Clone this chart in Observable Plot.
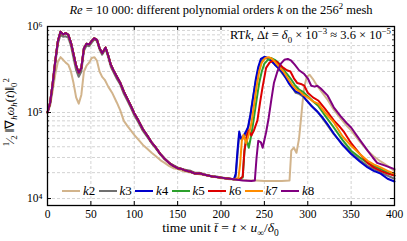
<!DOCTYPE html>
<html><head><meta charset="utf-8">
<script src="https://cdn.jsdelivr.net/npm/d3@7"></script>
<script src="https://cdn.jsdelivr.net/npm/@observablehq/plot@0.6"></script>
<style>
body{margin:0;background:#fff;}
#wrap{position:relative;width:407px;height:241px;font-family:"Liberation Serif",serif;color:#000;overflow:hidden;}
#chart{position:absolute;left:0;top:0;}
.txt{position:absolute;white-space:nowrap;line-height:1;}
#title{top:4px;left:0;width:442px;text-align:center;font-size:12.5px;}
#note{top:29px;right:15px;font-size:12.5px;background:#fff;padding:0 1px;}
#ylab{left:-70px;top:106px;width:160px;text-align:center;font-size:12.5px;transform:rotate(-90deg);}
#xlab{top:221px;left:0;width:441px;text-align:center;font-size:13.5px;}
#legend{position:absolute;left:62px;top:183px;display:flex;align-items:center;font-size:13px;}
.item{display:flex;align-items:center;width:36.5px;}
.item svg{margin-right:3px;}
sub,sup{font-size:70%;line-height:0;}
</style></head>
<body><div id="wrap">
<div id="chart"></div>
<div class="txt" id="title"><i>Re</i> = 10 000: different polynomial orders <i>k</i> on the 256<sup>2</sup> mesh</div>
<div class="txt" id="note">RT<i>k</i>, Δ<i>t</i> = <i>δ</i><sub>0</sub> × 10<sup>−3</sup> ≈ 3.6 × 10<sup>−5</sup></div>
<div class="txt" id="ylab"><sup>1</sup>⁄<sub>2</sub> ‖∇<sub><i>h</i></sub><i>ω</i><sub><i>h</i></sub>(<i>t</i>)‖<sub>0</sub><sup>2</sup></div>
<div class="txt" id="xlab">time unit <i>t̄</i> = <i>t</i> × <i>u</i><sub>∞</sub>/<i>δ</i><sub>0</sub></div>
<div id="legend"></div>
</div>
<script>
// ---- data ----
const seriesKeys = ["k2","k3","k4","k5","k6","k7","k8"];
const seriesColors = ["#d2b48c","#707070","#0000cc","#2ca02c","#dd0000","#ff8c00","#800080"];

// shared early part (k4..k8)
const tEarly = [0,3,6,9,12,15,18,21,24,27,30,33,36,39,42,45,48,51,54,57,60,63,67,70,73,76,80,84,88,92,96,100,105,110,115,120,125,130,135,140,145,150,155,160,165,170,175,180,185,190,195,200,205,210,215];
const vEarly = [1.0e5,1.3e5,2.2e5,4.0e5,6.8e5,8.7e5,8.1e5,8.4e5,8.0e5,6.5e5,4.8e5,3.5e5,2.9e5,3.3e5,5.6e5,6.3e5,6.2e5,6.8e5,7.3e5,7.0e5,5.6e5,4.9e5,5.7e5,4.6e5,3.6e5,3.1e5,2.6e5,2.2e5,1.75e5,1.45e5,1.2e5,9.8e4,8.0e4,6.4e4,5.4e4,4.5e4,3.9e4,3.3e4,2.9e4,2.6e4,2.4e4,2.25e4,2.2e4,2.1e4,2.05e4,1.95e4,1.97e4,1.9e4,1.85e4,1.8e4,1.78e4,1.75e4,1.72e4,1.7e4,1.68e4];
const vK3Early = [1.0e5,1.25e5,2.0e5,3.7e5,6.3e5,8.0e5,7.6e5,7.7e5,7.4e5,6.0e5,4.3e5,3.1e5,2.6e5,3.0e5,5.2e5,6.0e5,5.9e5,6.5e5,7.1e5,6.8e5,5.4e5,4.7e5,5.5e5,4.4e5,3.4e5,2.95e5,2.45e5,2.1e5,1.65e5,1.38e5,1.14e5,9.3e4,7.6e4,6.1e4,5.2e4,4.4e4,3.8e4,3.25e4,2.9e4,2.6e4,2.45e4,2.3e4,2.2e4,2.15e4,2.1e4,2.0e4,2.0e4,1.92e4,1.87e4,1.82e4,1.8e4,1.76e4,1.73e4,1.7e4,1.68e4];

const tK2 = [0,3,6,9,12,15,18,21,24,27,30,33,36,39,42,45,48,51,54,57,60,63,66,70,75,80,84,88,92,96,100,105,110,115,120,125,130,135,140,145,150,155,160,165,170,180,190,200,210,220,230,240,250,260,270,279,281,284,287,290,292,294,296,299,302,306,310,315,323,330,338,345,350,360,369,376,384,392,400];
const vK2 = [1.0e5,1.2e5,1.8e5,2.8e5,3.9e5,4.4e5,4.1e5,3.8e5,3.6e5,3.0e5,2.2e5,1.5e5,1.27e5,1.6e5,3.0e5,3.5e5,3.8e5,4.3e5,4.4e5,4.0e5,3.0e5,2.6e5,2.4e5,2.0e5,1.66e5,1.3e5,1.05e5,8.0e4,7.0e4,6.2e4,5.5e4,4.8e4,4.2e4,3.8e4,3.4e4,3.1e4,2.8e4,2.6e4,2.4e4,2.25e4,2.2e4,2.1e4,2.05e4,2.0e4,1.95e4,1.88e4,1.8e4,1.72e4,1.68e4,1.65e4,1.63e4,1.62e4,1.6e4,1.6e4,1.6e4,1.62e4,3.6e4,3.9e4,3.4e4,5.0e4,8.0e4,1.3e5,2.0e5,2.6e5,2.75e5,2.45e5,2.1e5,1.8e5,1.4e5,1.08e5,8.5e4,7.0e4,6.2e4,4.6e4,3.6e4,3.1e4,2.7e4,2.4e4,2.1e4];

const tK3Tail = [217,219,221,224,228,232,236,240,244,248,252,256,260,265,270,275,280,286,290,294,300,306,312,320,330,340,350,360,369,384,400];
const vK3Tail = [1.8e4,3.2e4,5.5e4,4.8e4,5.5e4,7.0e4,1.3e5,2.3e5,3.5e5,4.2e5,4.3e5,4.1e5,3.8e5,3.4e5,2.9e5,2.5e5,2.1e5,1.7e5,1.65e5,1.55e5,1.35e5,1.15e5,1.0e5,7.8e4,5.6e4,4.3e4,3.4e4,2.8e4,2.4e4,2.0e4,1.7e4];

const tK4Tail = [217,219,221,223,225,228,231,234,237,240,243,246,250,254,258,262,266,270,274,278,282,286,290,294,298,304,310,316,322,330,340,350,360,369,376,384,392,400];
const vK4Tail = [1.95e4,3.6e4,6.0e4,5.0e4,5.2e4,5.8e4,6.7e4,9.5e4,1.5e5,2.4e5,3.4e5,4.2e5,4.45e5,4.3e5,4.0e5,3.6e5,3.3e5,3.0e5,2.6e5,2.2e5,1.95e5,1.75e5,1.7e5,1.6e5,1.4e5,1.2e5,1.05e5,9.0e4,7.5e4,5.7e4,4.2e4,3.3e4,2.7e4,2.3e4,2.1e4,1.95e4,1.7e4,1.58e4];

const tK5Tail = [220,225,227,229,232,235,238,241,244,247,250,254,258,262,266,270,275,280,285,290,294,300,306,312,320,330,340,350,360,369,384,392,400];
const vK5Tail = [1.68e4,1.75e4,3.5e4,5.1e4,3.9e4,5.5e4,8.7e4,1.4e5,2.2e5,3.0e5,3.7e5,4.1e5,4.3e5,4.1e5,3.8e5,3.4e5,2.9e5,2.5e5,2.1e5,1.85e5,1.75e5,1.55e5,1.35e5,1.2e5,9.2e4,6.7e4,4.8e4,3.6e4,3.0e4,2.6e4,2.2e4,2.0e4,1.85e4];

const tK6Tail = [222,225,227,230,232,235,238,242,245,248,252,256,260,264,268,272,276,280,284,288,292,296,300,306,312,320,330,336,342,350,360,369,376,384,392,400];
const vK6Tail = [1.68e4,1.8e4,3.6e4,5.5e4,6.2e4,5.4e4,6.2e4,8.1e4,1.3e5,2.0e5,3.3e5,3.8e5,4.0e5,3.9e5,3.6e5,3.3e5,3.1e5,3.0e5,2.5e5,2.2e5,2.15e5,2.05e5,1.7e5,1.5e5,1.38e5,1.1e5,8.1e4,7.0e4,5.9e4,4.4e4,3.3e4,2.6e4,2.3e4,2.1e4,1.95e4,1.85e4];

const tK7Tail = [220,222,224,226,229,232,235,238,241,244,247,251,255,259,263,267,272,277,282,287,291,295,300,306,312,320,330,340,350,360,369,376,384,392,400];
const vK7Tail = [1.72e4,2.5e4,4.7e4,5.5e4,4.4e4,5.5e4,7.4e4,1.2e5,2.0e5,3.0e5,3.8e5,4.3e5,4.4e5,4.2e5,3.8e5,3.4e5,3.0e5,2.5e5,2.1e5,1.85e5,1.75e5,1.6e5,1.5e5,1.35e5,1.27e5,1.0e5,7.7e4,5.3e4,4.1e4,3.3e4,2.75e4,2.5e4,2.3e4,2.1e4,1.95e4];

const tK8Tail = [225,235,239,241,243,246,248,252,255,258,261,265,269,273,277,281,285,290,296,300,304,308,311,315,323,330,338,345,350,360,369,375,380,390,400];
const vK8Tail = [1.62e4,1.6e4,1.62e4,3.0e4,4.7e4,4.5e4,3.9e4,5.9e4,8.7e4,1.4e5,2.2e5,3.0e5,3.7e5,4.1e5,4.2e5,4.0e5,3.6e5,3.1e5,2.8e5,2.5e5,2.05e5,2.0e5,2.05e5,1.9e5,1.57e5,1.15e5,9.0e4,7.5e4,6.7e4,4.8e4,3.6e4,3.0e4,2.6e4,2.4e4,2.2e4];

const xTicks = [0,50,100,150,200,250,300,350,400];
const yMajor = [1e4,1e5,1e6];
const yMajorLabels = ["10⁴","10⁵","10⁶"];
const yMinor = [2e4,3e4,4e4,5e4,6e4,7e4,8e4,9e4,2e5,3e5,4e5,5e5,6e5,7e5,8e5,9e5];

// ---- build ----
const zip = (ts, vs) => ts.map((t, i) => ({t, v: vs[i]}));
const seriesData = {
  k2: zip(tK2, vK2),
  k3: zip(tEarly, vK3Early).concat(zip(tK3Tail, vK3Tail)),
  k4: zip(tEarly, vEarly).concat(zip(tK4Tail, vK4Tail)),
  k5: zip(tEarly, vEarly).concat(zip(tK5Tail, vK5Tail)),
  k6: zip(tEarly, vEarly).concat(zip(tK6Tail, vK6Tail)),
  k7: zip(tEarly, vEarly).concat(zip(tK7Tail, vK7Tail)),
  k8: zip(tEarly, vEarly).concat(zip(tK8Tail, vK8Tail))
};

const W = 407, H = 241, mT = 26, mR = 13, mB = 36, mL = 47;
const iw = W - mL - mR, ih = H - mT - mB;
const gridStyle = {stroke: "#c8c8c8", strokeOpacity: 1, strokeWidth: 0.8, strokeDasharray: "3,2"};

const chart = Plot.plot({
  width: W, height: H, marginTop: mT, marginRight: mR, marginBottom: mB, marginLeft: mL,
  style: {fontFamily: "'Liberation Serif',serif", fontSize: "11.5px", background: "white", color: "black"},
  x: {domain: [0, 400]},
  y: {type: "log", domain: [8300, 1e6]},
  marks: [
    Plot.gridX(xTicks, gridStyle),
    Plot.gridY(yMajor.concat(yMinor), gridStyle),
    ...seriesKeys.map((k, i) => Plot.line(seriesData[k], {x: "t", y: "v", stroke: seriesColors[i], strokeWidth: 2, strokeLinejoin: "round"})),
    Plot.tickX(xTicks, {insetTop: ih - 4, stroke: "black"}),
    Plot.tickX(xTicks, {insetBottom: ih - 4, stroke: "black"}),
    Plot.tickY(yMajor, {insetRight: iw - 4, stroke: "black"}),
    Plot.tickY(yMajor, {insetLeft: iw - 4, stroke: "black"}),
    Plot.tickY(yMinor, {insetRight: iw - 2, stroke: "black", strokeWidth: 0.7}),
    Plot.tickY(yMinor, {insetLeft: iw - 2, stroke: "black", strokeWidth: 0.7}),
    Plot.axisX(xTicks, {tickSize: 0, tickPadding: 4, label: null}),
    Plot.axisY(yMajor, {tickSize: 0, tickPadding: 5, label: null, tickFormat: d => yMajorLabels[yMajor.indexOf(d)]}),
    Plot.frame({stroke: "black", strokeWidth: 1.3})
  ]
});
document.getElementById("chart").appendChild(chart);

const legend = document.getElementById("legend");
seriesKeys.forEach((k, i) => {
  const item = document.createElement("div");
  item.className = "item";
  item.innerHTML = `<svg width="18" height="6"><line x1="0" x2="18" y1="3" y2="3" stroke="${seriesColors[i]}" stroke-width="2"/></svg><span><i>k</i>${k.slice(1)}</span>`;
  legend.appendChild(item);
});
</script>
</body></html>
